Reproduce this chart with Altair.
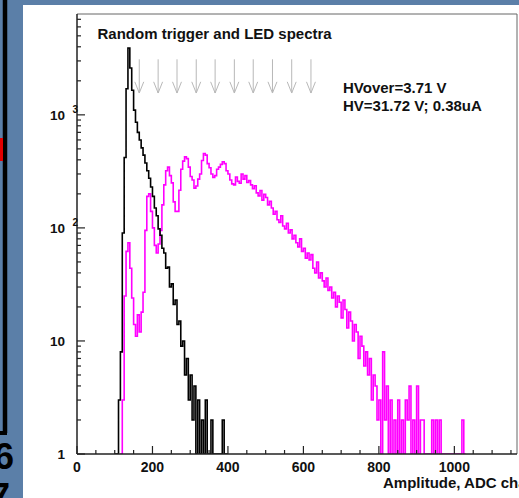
import altair as alt
import pandas as pd

# ---------------- data ----------------
BIN = 5  # ADC channels per drawn bin

# Random-trigger spectrum (black), bins start at ADC 100
BLACK_START = 100
BLACK_COUNTS = [
    0, 1, 3, 8, 90, 420, 1700, 3900, 2600, 1650,
    1100, 860, 700, 600, 510, 440, 375, 320, 275, 230,
    190, 150, 128, 98, 86, 66, 60, 44, 45, 30,
    32, 21, 23, 14, 15, 9, 10, 5, 7, 3,
    5, 2, 4, 1, 3, 1, 2, 1, 3, 0,
    1, 2, 0, 0, 0, 0, 0, 2, 0, 0,
]

# LED spectrum (magenta), bins start at ADC 115
LED_START = 115
LED_COUNTS = [
    0, 3, 25, 62, 74, 44, 24, 14, 11, 17,
    12, 18, 27, 95, 190, 200, 140, 100, 70, 60,
    72, 95, 160, 240, 320, 345, 290, 250, 170, 140,
    140, 215, 330, 390, 425, 410, 345, 285, 265, 225,
    235, 270, 300, 395, 455, 440, 370, 340, 300, 280,
    290, 330, 345, 365, 385, 370, 320, 300, 265, 245,
    240, 282, 258, 248, 300, 270, 290, 252, 262, 240,
    222, 236, 204, 192, 214, 176, 198, 186, 160, 172,
    150, 132, 140, 118, 112, 128, 104, 98, 110, 90,
    96, 80, 86, 74, 68, 80, 62, 66, 54, 60,
    52, 58, 44, 40, 50, 36, 40, 34, 30, 36,
    28, 30, 24, 27, 20, 25, 22, 16, 23, 19,
    13, 18, 15, 10, 14, 12, 7, 11, 9, 6,
    8, 5, 7, 3, 5, 4, 2, 3, 1, 8,
    2, 4, 1, 3, 0, 2, 1, 3, 0, 2,
    1, 3, 2, 4, 1, 2, 0, 4, 1, 2,
    2, 0, 0, 0, 0, 2, 0, 2, 0, 2,
    0, 0, 0, 0, 0, 0, 0, 0, 0, 0,
    0, 2, 0,
]

# peak-marker arrows (ADC positions) and their vertical extent (counts)
ARROW_ADC = [165, 215, 265, 316, 366, 417, 467, 518, 569, 620]
ARROW_TOP = 3100
ARROW_TIP = 1560

# axis ticks and labels
X_MAJOR = [0, 200, 400, 600, 800, 1000]
X_MINOR = [50, 100, 150, 250, 300, 350, 450, 500, 550, 650, 700, 750,
           850, 900, 950, 1050, 1100, 1150]
Y_MAJOR = [1, 10, 100, 1000]
Y_MAJOR_TEXT = ["1", "10", "10", "10"]
Y_SUP_VALUES = [100, 1000]
Y_SUP_TEXT = ["2", "3"]
Y_MINOR = [2, 3, 4, 5, 6, 7, 8, 9, 20, 30, 40, 50, 60, 70, 80, 90,
           200, 300, 400, 500, 600, 700, 800, 900, 2000, 3000, 4000,
           5000, 6000, 7000]

TITLE = "Random trigger and LED spectra"
INFO_1 = "HVover=3.71 V"
INFO_2 = "HV=31.72 V; 0.38uA"
X_TITLE = "Amplitude, ADC channels"

X_MAX = 1166
Y_MAX = 7800

# ---------------- build ----------------
W, H = 440, 440
FONT = "Liberation Sans, Arial, Helvetica, sans-serif"
BLUE = "#5b7fa8"

xs = alt.Scale(domain=[0, X_MAX], nice=False, zero=False)
ys = alt.Scale(type="log", domain=[1, Y_MAX], nice=False, clamp=True)


def hist_df(start, counts):
    n = len(counts)
    adc = [start + BIN * i for i in range(n + 1)]
    vals = list(counts) + [0]
    return pd.DataFrame({"adc": adc, "count": vals,
                         "plot": [max(v, 0.5) for v in vals]})


one = pd.DataFrame({"k": [0]})


def hist_layer(df, color):
    return alt.Chart(df).mark_line(
        interpolate="step-after", color=color, strokeWidth=1.6, clip=True
    ).encode(
        x=alt.X("adc:Q", scale=xs, axis=None),
        y=alt.Y("plot:Q", scale=ys, axis=None),
    )


def text_at(txt, x, y, size=15, align="left", color="#111", baseline="middle"):
    return alt.Chart(one).mark_text(
        text=txt, align=align, baseline=baseline, font=FONT, fontSize=size,
        fontWeight="bold", color=color,
    ).encode(x=alt.value(x), y=alt.value(y))


# slide background pieces
panel = alt.Chart(one).mark_rect(color="white").encode(
    x=alt.value(-54), x2=alt.value(W + 20), y=alt.value(-9), y2=alt.value(H + 60))
slide_line = alt.Chart(one).mark_rule(color="black", strokeWidth=4.5).encode(
    x=alt.value(-72), y=alt.value(-14), y2=alt.value(419))
slide_line2 = alt.Chart(one).mark_rule(color="black", strokeWidth=4).encode(
    x=alt.value(-80), x2=alt.value(-70), y=alt.value(419))
slide_red = alt.Chart(one).mark_rect(color="#e00000").encode(
    x=alt.value(-80), x2=alt.value(-74), y=alt.value(124), y2=alt.value(147))
slide_6 = text_at("6", -63, 455, size=36, align="right", color="black",
                  baseline="alphabetic")
slide_7 = text_at("7", -67, 495, size=36, align="right", color="black",
                  baseline="alphabetic")

# histograms
led = hist_layer(hist_df(LED_START, LED_COUNTS), "#ff00ff")
black = hist_layer(hist_df(BLACK_START, BLACK_COUNTS), "#000000")

# arrows
arrow_df = pd.DataFrame({"adc": ARROW_ADC, "top": ARROW_TOP, "tip": ARROW_TIP})
arrow_lines = alt.Chart(arrow_df).mark_rule(color="#b8b8b8", strokeWidth=1).encode(
    x=alt.X("adc:Q", scale=xs, axis=None),
    y=alt.Y("top:Q", scale=ys, axis=None),
    y2="tip:Q",
)
arrow_heads = alt.Chart(arrow_df).mark_point(
    shape="M-0.8,-2L0,0L0.8,-2", size=125, filled=False, stroke="#b8b8b8",
    strokeWidth=1, opacity=1,
).encode(
    x=alt.X("adc:Q", scale=xs, axis=None),
    y=alt.Y("tip:Q", scale=ys, axis=None),
)

# frame
frame_top = alt.Chart(one).mark_rule(color="#666", strokeWidth=1).encode(
    x=alt.value(0), x2=alt.value(W), y=alt.value(0))
frame_right = alt.Chart(one).mark_rule(color="#666", strokeWidth=1).encode(
    x=alt.value(W), y=alt.value(0), y2=alt.value(H))
axis_left = alt.Chart(one).mark_rule(color="#222", strokeWidth=1.5).encode(
    x=alt.value(0), y=alt.value(0), y2=alt.value(H))
axis_bottom = alt.Chart(one).mark_rule(color="#222", strokeWidth=1.5).encode(
    x=alt.value(0), x2=alt.value(W), y=alt.value(H))

# ticks (ROOT style: inward)
xmaj = alt.Chart(pd.DataFrame({"v": X_MAJOR})).mark_rule(color="#222", strokeWidth=1.2).encode(
    x=alt.X("v:Q", scale=xs, axis=None), y=alt.value(H), y2=alt.value(H - 8))
xmin = alt.Chart(pd.DataFrame({"v": X_MINOR})).mark_rule(color="#222", strokeWidth=1.2).encode(
    x=alt.X("v:Q", scale=xs, axis=None), y=alt.value(H), y2=alt.value(H - 4))
ymaj = alt.Chart(pd.DataFrame({"v": Y_MAJOR})).mark_rule(color="#222", strokeWidth=1.2).encode(
    y=alt.Y("v:Q", scale=ys, axis=None), x=alt.value(0), x2=alt.value(8))
ymin = alt.Chart(pd.DataFrame({"v": Y_MINOR})).mark_rule(color="#222", strokeWidth=1.2).encode(
    y=alt.Y("v:Q", scale=ys, axis=None), x=alt.value(0), x2=alt.value(4))

# tick labels
xlab = alt.Chart(pd.DataFrame({"v": X_MAJOR})).mark_text(
    font=FONT, fontSize=14, fontWeight="bold", color="#111", baseline="middle",
    align="center",
).encode(x=alt.X("v:Q", scale=xs, axis=None), y=alt.value(H + 14), text="v:N")
ylab = alt.Chart(pd.DataFrame({"v": Y_MAJOR, "t": Y_MAJOR_TEXT})).mark_text(
    font=FONT, fontSize=13.5, fontWeight="bold", color="#111", baseline="middle",
    align="right", dy=1,
).encode(y=alt.Y("v:Q", scale=ys, axis=None), x=alt.value(-12), text="t:N")
ysup = alt.Chart(pd.DataFrame({"v": Y_SUP_VALUES, "t": Y_SUP_TEXT})).mark_text(
    font=FONT, fontSize=10, fontWeight="bold", color="#111", baseline="middle",
    align="left", dy=-5,
).encode(y=alt.Y("v:Q", scale=ys, axis=None), x=alt.value(-4.5), text="t:N")

title = text_at(TITLE, 20.5, 19.5)
info1 = text_at(INFO_1, 266, 74)
info2 = text_at(INFO_2, 266, 92)
xtitle = text_at(X_TITLE, 306, 469)

chart = alt.layer(
    panel, slide_line, slide_line2, slide_red, slide_6, slide_7,
    led, black, arrow_lines, arrow_heads,
    frame_top, frame_right, axis_left, axis_bottom,
    xmaj, xmin, ymaj, ymin, xlab, ylab, ysup,
    title, info1, info2, xtitle,
).properties(
    width=W, height=H,
    padding={"left": 77, "top": 14, "right": 2, "bottom": 44},
    autosize=alt.AutoSizeParams(type="none"),
    background=BLUE,
).configure_view(stroke=None, fill="white")

chart.save("out.html", embed_options={"renderer": "svg", "actions": False})
